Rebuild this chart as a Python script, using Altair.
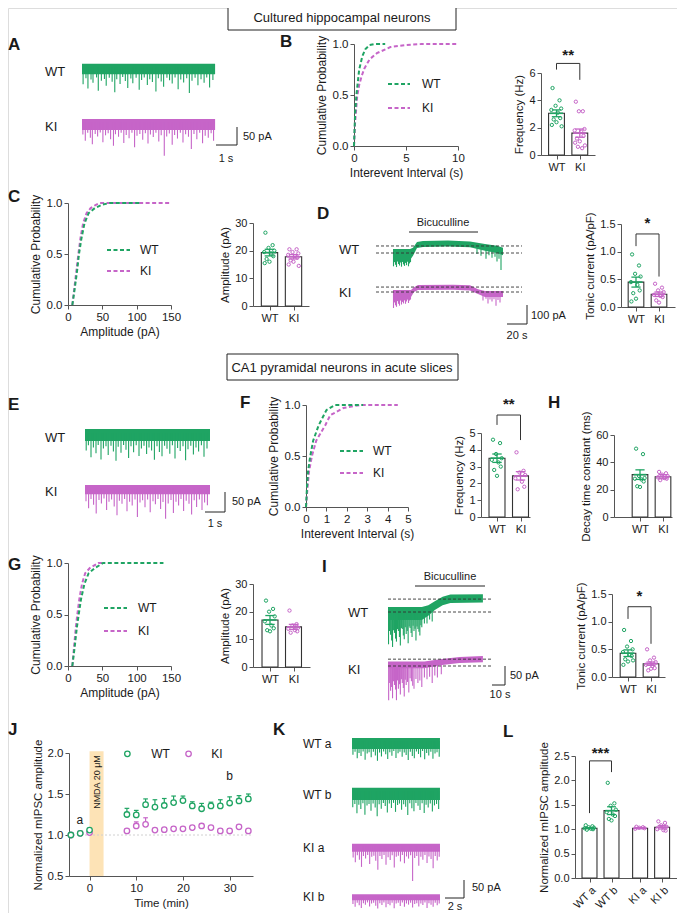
import altair as alt
import pandas as pd

# ======================= DATA =======================
groups = ["WT", "KI"]

# B: cumulative probability of inter-event interval (cultured)
B_wt_x = [0, 0.1, 0.23, 0.5, 0.8, 1.1, 1.5, 2.0, 3.0]
B_wt_y = [0, 0.3, 0.5, 0.75, 0.88, 0.95, 0.99, 1.0, 1.0]
B_ki_x = [0, 0.1, 0.3, 0.5, 0.75, 1.0, 1.5, 2.2, 3.5, 5.0, 6.5, 10.0]
B_ki_y = [0, 0.22, 0.48, 0.6, 0.69, 0.76, 0.85, 0.91, 0.97, 0.99, 1.0, 1.0]
B_freq_wt = [4.9, 4.0, 3.6, 3.4, 3.3, 3.1, 2.7, 2.6, 2.4, 2.2, 2.1]
B_freq_ki = [3.9, 3.2, 3.2, 1.9, 1.8, 1.7, 1.4, 1.2, 1.0, 0.9, 0.7, 0.6, 0.5]
B_mean = [3.05, 1.6]
B_sem = [0.25, 0.3]

# C: amplitude (cultured)
C_wt_x = [6.3, 10, 13.5, 16, 19.5, 24, 30, 39, 50, 61, 105]
C_wt_y = [0, 0.17, 0.35, 0.5, 0.65, 0.8, 0.9, 0.95, 0.985, 1.0, 1.0]
C_ki_x = [6.3, 9.5, 13, 15.5, 18.5, 22, 27, 33, 40, 46, 150]
C_ki_y = [0, 0.18, 0.38, 0.52, 0.67, 0.8, 0.9, 0.95, 0.98, 1.0, 1.0]
C_amp_wt = [26.5, 22, 21, 20, 19.5, 19, 18, 17, 16, 15.5]
C_amp_ki = [20.5, 20.5, 19.5, 19, 18.5, 18, 17.5, 16.5, 16, 15, 14.5]
C_mean = [19.3, 17.8]
C_sem = [1.2, 0.8]

# D: tonic current (cultured)
D_wt = [0.95, 0.75, 0.6, 0.55, 0.45, 0.4, 0.3, 0.25, 0.15, 0.1]
D_ki = [0.42, 0.35, 0.3, 0.27, 0.22, 0.2, 0.18, 0.12, 0.08]
D_mean = [0.45, 0.23]
D_sem = [0.09, 0.04]

# F: inter-event interval (slices)
F_wt_x = [0, 0.05, 0.1, 0.21, 0.35, 0.62, 1.0, 1.43, 2.8]
F_wt_y = [0, 0.2, 0.35, 0.5, 0.65, 0.8, 0.95, 1.0, 1.0]
F_ki_x = [0, 0.08, 0.15, 0.29, 0.5, 0.94, 1.19, 1.83, 2.65, 4.5]
F_ki_y = [0, 0.2, 0.35, 0.5, 0.65, 0.8, 0.9, 0.97, 1.0, 1.0]
F_freq_wt = [4.6, 4.4, 3.75, 3.5, 3.4, 3.25, 3.0, 2.8, 2.45]
F_freq_ki = [3.85, 2.75, 2.65, 2.5, 2.3, 2.1, 1.8, 1.65]
F_mean = [3.5, 2.45]
F_sem = [0.25, 0.25]

# H: decay time constant
H_wt = [50, 46, 30, 28.5, 28, 27.5, 26, 22.5, 22]
H_ki = [33, 32, 31, 30, 29, 28.5, 28, 27]
H_mean = [31, 29.5]
H_sem = [3.5, 1.5]

# G: amplitude (slices)
G_wt_x = [6.3, 10, 13, 15.6, 19, 24, 30, 39, 51, 139]
G_wt_y = [0, 0.2, 0.38, 0.5, 0.65, 0.8, 0.9, 0.95, 1.0, 1.0]
G_ki_x = [6.3, 9, 11.5, 13.6, 16.5, 20.5, 25, 31.7, 44, 51]
G_ki_y = [0, 0.2, 0.38, 0.5, 0.65, 0.8, 0.9, 0.95, 1.0, 1.0]
G_amp_wt = [24, 21, 20, 18.3, 16.5, 15, 14, 13.3, 12.9]
G_amp_ki = [20.4, 15.5, 15, 14.2, 13.8, 13.3, 12.9, 12.4]
G_mean = [17, 14.5]
G_sem = [1.6, 0.9]

# I: tonic current (slices)
I_wt = [0.85, 0.65, 0.55, 0.5, 0.45, 0.4, 0.38, 0.32, 0.28, 0.22, 0.3]
I_ki = [0.5, 0.35, 0.3, 0.27, 0.22, 0.2, 0.16, 0.12, 0.15]
I_mean = [0.43, 0.24]
I_sem = [0.06, 0.03]

# J: time course of normalized mIPSC amplitude
J_time = [-4, -2, 0, 8, 10, 12, 14, 16, 18, 20, 22, 24, 26, 28, 30, 32, 34]
J_wt = [1.0, 1.02, 1.06, 1.25, 1.245, 1.37, 1.34, 1.36, 1.395, 1.42, 1.355, 1.32, 1.355, 1.355, 1.39, 1.415, 1.44]
J_wt_sem = [0, 0, 0, 0.075, 0.055, 0.07, 0.09, 0.085, 0.08, 0.055, 0.05, 0.065, 0.045, 0.075, 0.075, 0.065, 0.06]
J_ki = [1.0, 1.02, 1.03, 1.05, 1.11, 1.13, 1.06, 1.065, 1.075, 1.075, 1.09, 1.11, 1.09, 1.05, 1.05, 1.10, 1.05]
J_ki_sem = [0, 0, 0, 0.02, 0.05, 0.08, 0.02, 0.01, 0.02, 0.02, 0.015, 0.01, 0.01, 0.01, 0.01, 0.02, 0.01]
J_nmda = [0, 3]

# L: normalized amplitude a vs b
L_cats = ["WT a", "WT b", "KI a", "KI b"]
L_pts = [[1.08, 1.06, 1.04, 1.03, 1.02, 1.01, 1.0, 0.99],
         [1.95, 1.53, 1.48, 1.4, 1.35, 1.3, 1.27, 1.21, 1.18],
         [1.05, 1.04, 1.03, 1.02, 1.01],
         [1.16, 1.13, 1.08, 1.05, 1.0, 0.98, 0.97]]
L_mean = [1.02, 1.38, 1.02, 1.04]
L_sem = [0.01, 0.08, 0.01, 0.035]

# Example traces: band (t, upper, lower) in pA and events (t, to) or (t, from, to) in pA
A_wt_band = [(0, 9, -20), (6.05, 9, -20)]
A_wt_ev = [(0.05, -48), (0.18, -31), (0.27, -60), (0.41, -35), (0.5, -44), (0.66, -29), (0.74, -66), (0.88, -38),
           (1.02, -33), (1.1, -52), (1.24, -30), (1.37, -41), (1.49, -70), (1.58, -34), (1.73, -47), (1.85, -28),
           (1.97, -39), (2.08, -58), (2.22, -32), (2.31, -45), (2.46, -30), (2.6, -63), (2.71, -36), (2.83, -29),
           (2.97, -50), (3.08, -34), (3.2, -42), (3.36, -68), (3.47, -31), (3.6, -40), (3.71, -55), (3.86, -30),
           (3.98, -37), (4.1, -46), (4.23, -29), (4.37, -62), (4.49, -35), (4.62, -43), (4.76, -31), (4.88, -72),
           (5.0, -38), (5.14, -30), (5.27, -51), (5.41, -34), (5.55, -44), (5.67, -29), (5.8, -57), (5.95, -36)]
A_ki_band = [(0, 8, -22), (6.05, 8, -22)]
A_ki_ev = [(0.04, -35), (0.15, -52), (0.26, -30), (0.38, -44), (0.47, -62), (0.6, -33), (0.71, -40), (0.83, -29),
           (0.95, -56), (1.07, -37), (1.19, -31), (1.3, -48), (1.43, -66), (1.52, -34), (1.66, -41), (1.78, -30),
           (1.9, -58), (2.01, -36), (2.14, -45), (2.27, -30), (2.39, -70), (2.5, -38), (2.63, -33), (2.76, -49),
           (2.88, -31), (3.0, -60), (3.11, -35), (3.24, -42), (3.36, -30), (3.49, -54), (3.6, -37), (3.74, -94),
           (3.85, -40), (3.97, -32), (4.1, -63), (4.21, -36), (4.34, -46), (4.47, -30), (4.59, -57), (4.71, -34),
           (4.84, -41), (4.97, -75), (5.09, -33), (5.22, -48), (5.35, -30), (5.48, -59), (5.6, -38), (5.74, -44),
           (5.87, -31), (5.98, -52)]
E_wt_band = [(0, 9, -18), (6.25, 9, -18)]
E_wt_ev = [(0.06, -40), (0.17, -28), (0.3, -55), (0.42, -33), (0.55, -46), (0.66, -27), (0.8, -60), (0.92, -35),
           (1.05, -30), (1.16, -50), (1.3, -29), (1.42, -42), (1.55, -63), (1.66, -31), (1.8, -45), (1.93, -27),
           (2.05, -38), (2.18, -57), (2.3, -30), (2.43, -44), (2.56, -28), (2.7, -52), (2.82, -35), (2.95, -29),
           (3.08, -48), (3.2, -33), (3.33, -40), (3.47, -61), (3.6, -30), (3.72, -43), (3.85, -53), (3.98, -29),
           (4.1, -36), (4.24, -47), (4.37, -28), (4.5, -58), (4.63, -34), (4.76, -41), (4.9, -30), (5.03, -62),
           (5.15, -37), (5.29, -29), (5.42, -49), (5.55, -33), (5.68, -42), (5.82, -28), (5.95, -54), (6.1, -35)]
E_ki_band = [(0, 7, -14), (6.25, 7, -14)]
E_ki_ev = [(0.05, -30), (0.18, -46), (0.3, -25), (0.43, -38), (0.56, -58), (0.7, -27), (0.82, -35), (0.95, -24),
           (1.08, -50), (1.2, -31), (1.33, -26), (1.46, -42), (1.6, -62), (1.72, -29), (1.85, -36), (1.98, -25),
           (2.1, -53), (2.23, -31), (2.36, -40), (2.5, -26), (2.62, -66), (2.75, -33), (2.88, -28), (3.0, -44),
           (3.13, -26), (3.26, -55), (3.4, -30), (3.52, -37), (3.65, -25), (3.78, -48), (3.9, -32), (4.03, -70),
           (4.16, -35), (4.3, -27), (4.42, -57), (4.55, -31), (4.68, -40), (4.8, -25), (4.93, -52), (5.06, -29),
           (5.2, -36), (5.33, -60), (5.46, -28), (5.58, -43), (5.72, -26), (5.85, -50), (5.98, -33), (6.12, -39)]
K_wta_band = [(0, 8, -22), (9.26, 8, -22)]
K_wta_ev = [(0.1, -38), (0.32, -30), (0.55, -48), (0.74, -33), (0.95, -42), (1.17, -29), (1.38, -52), (1.6, -35),
            (1.8, -31), (2.02, -45), (2.25, -30), (2.46, -40), (2.68, -55), (2.9, -32), (3.1, -43), (3.33, -29),
            (3.55, -37), (3.76, -50), (3.98, -31), (4.2, -41), (4.4, -28), (4.63, -47), (4.85, -34), (5.05, -30),
            (5.28, -44), (5.5, -32), (5.7, -39), (5.92, -53), (6.14, -30), (6.35, -42), (6.56, -48), (6.78, -29),
            (7.0, -36), (7.22, -45), (7.43, -28), (7.65, -51), (7.86, -33), (8.08, -40), (8.3, -30), (8.52, -49),
            (8.74, -35), (8.95, -31), (9.18, -44)]
K_wtb_band = [(0, 9, -25), (9.26, 9, -25)]
K_wtb_ev = [(0.08, -45), (0.3, -36), (0.52, -62), (0.72, -38), (0.93, -50), (1.15, -34), (1.36, -66), (1.58, -40),
            (1.79, -36), (2.0, -55), (2.22, -35), (2.44, -46), (2.65, -70), (2.86, -37), (3.08, -49), (3.3, -33),
            (3.5, -42), (3.72, -60), (3.93, -35), (4.15, -47), (4.37, -33), (4.58, -58), (4.8, -39), (5.0, -35),
            (5.22, -52), (5.44, -37), (5.65, -44), (5.87, -67), (6.08, -34), (6.3, -48), (6.52, -56), (6.73, -33),
            (6.95, -41), (7.16, -53), (7.38, -34), (7.6, -61), (7.8, -38), (8.02, -46), (8.24, -35), (8.46, -57),
            (8.68, -40), (8.9, -36), (9.12, -50)]
K_kia_band = [(0, 6, -16), (9.26, 6, -16)]
K_kia_ev = [(0.12, -32), (0.35, -45), (0.56, -26), (0.78, -38), (1.0, -58), (1.2, -28), (1.43, -35), (1.65, -25),
            (1.86, -50), (2.08, -30), (2.3, -27), (2.5, -41), (2.72, -66), (2.94, -28), (3.15, -36), (3.37, -25),
            (3.58, -52), (3.8, -31), (4.02, -39), (4.23, -26), (4.45, -60), (4.66, -30), (4.88, -27), (5.1, -43),
            (5.3, -25), (5.52, -48), (5.74, -29), (5.95, -35), (6.17, -26), (6.38, -97), (6.6, -33), (6.82, -28),
            (7.03, -55), (7.25, -30), (7.46, -38), (7.68, -25), (7.9, -47), (8.1, -29), (8.32, -36), (8.54, -62),
            (8.76, -28), (8.97, -40), (9.18, -30)]
K_kib_band = [(0, 5, -12), (9.26, 5, -12)]
K_kib_ev = [(0.1, -22), (0.33, -30), (0.55, -19), (0.76, -26), (0.98, -33), (1.2, -20), (1.41, -24), (1.63, -18),
            (1.85, -29), (2.06, -21), (2.28, -19), (2.5, -27), (2.71, -35), (2.93, -20), (3.15, -25), (3.36, -18),
            (3.58, -31), (3.8, -22), (4.0, -26), (4.22, -19), (4.44, -34), (4.65, -21), (4.87, -19), (5.08, -28),
            (5.3, -18), (5.52, -30), (5.73, -21), (5.95, -24), (6.17, -19), (6.38, -32), (6.6, -22), (6.82, -20),
            (7.03, -29), (7.25, -21), (7.46, -25), (7.68, -18), (7.9, -33), (8.1, -20), (8.32, -24), (8.54, -30),
            (8.76, -19), (8.97, -26), (9.18, -21)]
D_wt_band = [(0, 21, -37), (17, 21, -37), (20, 28, -15), (24, 58, 26), (30, 63, 32), (55, 66, 34), (77, 60, 30),
             (92, 48, 12), (104, 38, 0), (110, 28, -12)]
D_wt_ev = [(0.5, 0, -70), (1.5, 0, -48), (2.5, 0, -62), (3.5, 0, -74), (4.5, 0, -45), (5.5, 0, -58), (6.5, 0, -66),
           (7.5, 0, -50), (8.5, 0, -72), (9.5, 0, -47), (10.5, 0, -60), (11.5, 0, -68), (12.5, 0, -52),
           (13.5, 0, -64), (14.5, 0, -46), (15.5, 0, -70), (16.5, 0, -55), (17.5, 0, -48), (84, 25, -5),
           (88, 20, -15), (93, 20, -30), (96, 15, -12), (99, 15, -25), (102, 10, -20), (104, 10, -45),
           (106, 5, -30), (108, 5, -90)]
D_ki_band = [(0, 10, -26), (18, 10, -26), (21, 25, 0), (25, 37, 10), (60, 38, 12), (77, 35, 8), (85, 15, -10),
             (92, 5, -26), (110, 5, -26)]
D_ki_ev = [(0.5, 0, -84), (1.5, 0, -55), (2.5, 0, -70), (3.5, 0, -78), (4.5, 0, -48), (5.5, 0, -62), (6.5, 0, -72),
           (7.5, 0, -45), (8.5, 0, -66), (9.5, 0, -52), (10.5, 0, -60), (11.5, 0, -44), (12.5, 0, -62),
           (13.5, 0, -50), (14.5, 0, -40), (15.5, 0, -58), (16.5, 0, -45), (17.5, 0, -40), (90, -10, -45),
           (93, -10, -35), (95, -10, -60), (97, -10, -40), (99, -10, -50), (101, -10, -38), (103, -10, -72),
           (105, -10, -42), (107, -10, -55)]
I_wt_band = [(0, 13, -21), (26, 13, -21), (31, 18, -10), (36, 28, 5), (42, 40, 18), (48, 46, 24), (73, 47, 25)]
I_wt_ev = [(0.4, 0, -85), (1.2, 0, -50), (2, 0, -60), (2.8, 0, -75), (3.5, 0, -92), (4.3, 0, -48), (5, 0, -55),
           (5.8, 0, -70), (6.5, 0, -78), (7.3, 0, -45), (8, 0, -50), (8.8, 0, -66), (9.5, 0, -88), (10.3, 0, -42),
           (11, 0, -45), (11.8, 0, -62), (12.5, 0, -72), (13.3, 0, -40), (14, 0, -58), (14.8, 0, -50),
           (15.5, 0, -82), (16.3, 0, -38), (17, 0, -42), (17.8, 0, -55), (18.5, 0, -66), (19.3, 0, -36),
           (20, 0, -50), (20.8, 0, -44), (21.5, 0, -75), (22.3, 0, -38), (23, 0, -45), (23.8, 0, -52),
           (24.5, 0, -62), (25.3, 0, -35), (26, 0, -40), (28, 2, -30), (30, 5, -30), (32, 8, -20), (34, 10, -25)]
I_ki_band = [(0, 12, -6), (28, 12, -6), (40, 18, 2), (55, 24, 8), (73, 26, 10)]
I_ki_ev = [(0.5, 0, -90), (1.3, 0, -45), (2, 0, -65), (2.8, 0, -55), (3.5, 0, -85), (4.3, 0, -40), (5, 0, -50),
           (5.8, 0, -62), (6.5, 0, -90), (7.3, 0, -38), (8, 0, -60), (8.8, 0, -48), (9.5, 0, -75), (10.3, 0, -35),
           (11, 0, -45), (11.8, 0, -58), (12.5, 0, -80), (13.3, 0, -36), (14, 0, -50), (15, 0, -42),
           (16, 0, -70), (17, 0, -32), (18, 0, -40), (19, 0, -52), (20, 0, -60), (21.5, 0, -34), (23, 0, -45),
           (24.5, 0, -38), (26, 0, -55), (28, 1, -30), (30, 2, -35), (32, 3, -28), (34, 4, -45), (36, 4, -25),
           (38, 5, -30), (41, 5, -22)]

# ======================= STYLE / LAYOUT =======================
OX, OY = 8, 8            # page margin: reference pixel -> view pixel
W, H = 669, 905
FONT = "Liberation Sans"
GREEN = "#1fa463"
PINK = "#c665c8"
AXC = "#555555"
TXT = "#1a1a1a"
JIT = [-0.17, 0.13, -0.04, 0.2, -0.22, 0.06, 0.16, -0.12, 0.0, -0.2, 0.22, -0.08, 0.1, 0.03]


def px(x):
    return x - OX


def py(y):
    return y - OY


def lin(domain, r0, r1):
    return alt.Scale(domain=domain, range=[r0, r1], nice=False, zero=False)


def xscale(domain, left, right):
    return lin(domain, px(left), px(right))


def yscale(domain, bottom, top):
    return lin(domain, py(bottom), py(top))


def axis_common(size, tsize):
    return dict(grid=False, domainColor=AXC, tickColor=AXC, labelColor=TXT, titleColor=TXT,
                labelFont=FONT, titleFont=FONT, labelFontSize=size, titleFontSize=tsize,
                titleFontWeight="normal", tickSize=4, labelPadding=2, titlePadding=4,
                labelFlush=False, labelOverlap=False)


def xaxis(line_y, title, values, size=11, tsize=11, **kw):
    return alt.Axis(orient="bottom", offset=py(line_y) - H, title=title, values=values,
                    **axis_common(size, tsize), **kw)


def yaxis(line_x, title, values, size=11, tsize=11, **kw):
    return alt.Axis(orient="left", offset=-px(line_x), title=title, values=values,
                    **axis_common(size, tsize), **kw)


def cdf_panel(wt, ki, xdom, xl, xr, yb, yt, xvals, xtitle):
    xs = xscale(xdom, xl, xr)
    ys = yscale([0, 1], yb, yt)
    ax_x = xaxis(yb, xtitle, xvals, size=11.5, tsize=12)
    ax_y = yaxis(xl, "Cumulative Probability", [0, 0.5, 1], size=11.5, tsize=12, format=".1f")
    layers = []
    for (xv, yv), col in ((ki, PINK), (wt, GREEN)):
        df = pd.DataFrame({"x": xv, "y": yv})
        layers.append(alt.Chart(df).mark_line(color=col, strokeDash=[4, 2.5], strokeWidth=2).encode(
            x=alt.X("x:Q", scale=xs, axis=ax_x), y=alt.Y("y:Q", scale=ys, axis=ax_y)))
    return alt.layer(*layers)


def label_expr(pos, labels):
    expr = "'%s'" % labels[-1]
    for p, lab in reversed(list(zip(pos[:-1], labels[:-1]))):
        expr = "(abs(datum.value - %s) < 0.01) ? '%s' : %s" % (p, lab, expr)
    return expr


def bar_panel(pos, labels, means, sems, pts, colors, xl, xr, c0, c1, yb, yt, ydom, yvals, ytitle,
              fmt="d", bracket=None, half=0.34, cap=0.2, label_angle=0):
    u = c1 - c0
    xs = xscale([(xl - c0) / u, (xr - c0) / u], xl, xr)
    ys = yscale(ydom, yb, yt)
    kw = {"labelAngle": label_angle} if label_angle else {}
    ax_x = xaxis(yb, None, pos, size=11, tsize=11, labelExpr=label_expr(pos, labels), **kw)
    ax_y = yaxis(xl, ytitle, yvals, size=11, tsize=11.5, format=fmt)

    def X(f):
        return alt.X(f, scale=xs, axis=ax_x)

    def Y(f):
        return alt.Y(f, scale=ys, axis=ax_y)

    bdf = pd.DataFrame({"p": pos, "m": means, "z": [0] * len(pos)})
    bdf["a"] = bdf["p"] - half
    bdf["b"] = bdf["p"] + half
    layers = [alt.Chart(bdf).mark_bar(fill="white", stroke="#333333", strokeWidth=1.1).encode(
        x=X("a:Q"), x2="b:Q", y=Y("m:Q"), y2="z:Q")]
    for p, vals, col in zip(pos, pts, colors):
        pdf = pd.DataFrame({"x": [p + JIT[i % len(JIT)] for i in range(len(vals))], "v": vals})
        layers.append(alt.Chart(pdf).mark_point(shape="circle", filled=False, size=11, strokeWidth=1,
                                                color=col, opacity=1).encode(x=X("x:Q"), y=Y("v:Q")))
    for p, m, s, col in zip(pos, means, sems, colors):
        edf = pd.DataFrame({"p": [p], "lo": [m - s], "hi": [m + s], "m": [m],
                            "l": [p - cap], "r": [p + cap], "l2": [p - cap * 1.4], "r2": [p + cap * 1.4]})
        layers.append(alt.Chart(edf).mark_rule(color=col, strokeWidth=1.3).encode(x=X("p:Q"), y=Y("lo:Q"), y2="hi:Q"))
        layers.append(alt.Chart(edf).mark_rule(color=col, strokeWidth=1.3).encode(x=X("l:Q"), x2="r:Q", y=Y("lo:Q")))
        layers.append(alt.Chart(edf).mark_rule(color=col, strokeWidth=1.3).encode(x=X("l:Q"), x2="r:Q", y=Y("hi:Q")))
        layers.append(alt.Chart(edf).mark_rule(color=col, strokeWidth=1.6).encode(x=X("l2:Q"), x2="r2:Q", y=Y("m:Q")))
    if bracket:
        p0, p1, ytop, y0, y1, stars, ystar = bracket
        sdf = pd.DataFrame({"x": [p0, p0, p1], "x2": [p1, p0, p1], "y": [ytop, y0, y1], "y2": [ytop, ytop, ytop]})
        layers.append(alt.Chart(sdf).mark_rule(color="#333333", strokeWidth=1).encode(
            x=X("x:Q"), x2="x2:Q", y=Y("y:Q"), y2="y2:Q"))
        tdf = pd.DataFrame({"x": [(p0 + p1) / 2], "y": [ystar], "t": [stars]})
        layers.append(alt.Chart(tdf).mark_text(font=FONT, fontSize=15, fontWeight="bold", color=TXT,
                                               baseline="middle").encode(x=X("x:Q"), y=Y("y:Q"), text="t:N"))
    return alt.layer(*layers)


def trace_panel(x0, base_y, pps, ppa, t_end, band, events, color, levels=None, lv_range=None):
    xs = xscale([0, t_end], x0, x0 + t_end * pps)
    ys = yscale([-200, 100], base_y + 200 * ppa, base_y - 100 * ppa)

    def X(f):
        return alt.X(f, scale=xs, axis=None)

    def Y(f):
        return alt.Y(f, scale=ys, axis=None)

    bdf = pd.DataFrame(band, columns=["t", "hi", "lo"])
    layers = [alt.Chart(bdf).mark_area(color=color, opacity=1).encode(x=X("t:Q"), y=Y("hi:Q"), y2="lo:Q")]
    ev = [e if len(e) == 3 else (e[0], 0, e[1]) for e in events]
    edf = pd.DataFrame(ev, columns=["t", "f", "a"])
    layers.append(alt.Chart(edf).mark_rule(color=color, strokeWidth=1.1).encode(x=X("t:Q"), y=Y("f:Q"), y2="a:Q"))
    if levels:
        ldf = pd.DataFrame({"y": levels, "t0": [lv_range[0]] * len(levels), "t1": [lv_range[1]] * len(levels)})
        layers.append(alt.Chart(ldf).mark_rule(color="#333333", strokeDash=[3, 2], strokeWidth=0.9).encode(
            x=X("t0:Q"), x2="t1:Q", y=Y("y:Q")))
    return alt.layer(*layers)


def pix_text(rows, size=12, weight="normal", align="left", baseline="middle", angle=0, color=TXT):
    df = pd.DataFrame(rows, columns=["x", "y", "t"])
    df["x"] = df["x"] - OX
    df["y"] = df["y"] - OY
    kw = {"angle": angle} if angle else {}
    return alt.Chart(df).mark_text(font=FONT, fontSize=size, fontWeight=weight, align=align,
                                   baseline=baseline, color=color, **kw).encode(
        x=alt.X("x:Q", scale=None, axis=None), y=alt.Y("y:Q", scale=None, axis=None), text="t:N")


def pix_rules(rows, color="#222222", width=1.0, dash=None):
    df = pd.DataFrame(rows, columns=["x", "y", "x2", "y2"])
    for c in ("x", "x2"):
        df[c] = df[c] - OX
    for c in ("y", "y2"):
        df[c] = df[c] - OY
    kw = {"strokeDash": dash} if dash else {}
    return alt.Chart(df).mark_rule(color=color, strokeWidth=width, **kw).encode(
        x=alt.X("x:Q", scale=None, axis=None), x2="x2:Q",
        y=alt.Y("y:Q", scale=None, axis=None), y2="y2:Q")


def pix_box(rows):
    df = pd.DataFrame(rows, columns=["x", "y", "x2", "y2"])
    for c in ("x", "x2"):
        df[c] = df[c] - OX
    for c in ("y", "y2"):
        df[c] = df[c] - OY
    return alt.Chart(df).mark_rect(fill="white", stroke="#222222", strokeWidth=1).encode(
        x=alt.X("x:Q", scale=None, axis=None), x2="x2:Q",
        y=alt.Y("y:Q", scale=None, axis=None), y2="y2:Q")


# ======================= PANELS =======================
panels = []
panels.append(pix_box([(228, 4, 456, 30), (227, 354, 458, 380)]))
panels.append(pix_text([(342, 17.5, "Cultured hippocampal neurons"),
                        (342, 367.5, "CA1 pyramidal neurons in acute slices")], size=13, align="center"))
panels.append(pix_text([(8, 45, "A"), (280, 42, "B"), (8, 197, "C"), (317, 214, "D"), (8, 405, "E"),
                        (240, 403, "F"), (548, 403, "H"), (8, 565, "G"), (322, 567, "I"), (8, 730, "J"),
                        (273, 730, "K"), (503, 732, "L")], size=17, weight="bold"))

# --- traces
panels.append(trace_panel(82, 67, 22, 0.36, 6.05, A_wt_band, A_wt_ev, GREEN))
panels.append(trace_panel(82, 122, 22, 0.36, 6.05, A_ki_band, A_ki_ev, PINK))
panels.append(trace_panel(393, 253, 1.0, 0.19, 110, D_wt_band, D_wt_ev, GREEN, [0, 37], [-17, 129]))
panels.append(trace_panel(393, 292, 1.0, 0.19, 110, D_ki_band, D_ki_ev, PINK, [0, 26], [-17, 129]))
panels.append(trace_panel(85, 433, 20, 0.44, 6.25, E_wt_band, E_wt_ev, GREEN))
panels.append(trace_panel(85, 488, 20, 0.44, 6.25, E_ki_band, E_ki_ev, PINK))
panels.append(trace_panel(388, 612, 1.3, 0.38, 73, I_wt_band, I_wt_ev, GREEN, [0, 34], [0, 80]))
panels.append(trace_panel(388, 666, 1.3, 0.38, 73, I_ki_band, I_ki_ev, PINK, [0, 18], [0, 80]))
panels.append(trace_panel(352, 741, 9.5, 0.36, 9.26, K_wta_band, K_wta_ev, GREEN))
panels.append(trace_panel(352, 791, 9.5, 0.36, 9.26, K_wtb_band, K_wtb_ev, GREEN))
panels.append(trace_panel(352, 846, 9.5, 0.36, 9.26, K_kia_band, K_kia_ev, PINK))
panels.append(trace_panel(352, 896, 9.5, 0.36, 9.26, K_kib_band, K_kib_ev, PINK))

panels.append(pix_text([(45, 72, "WT"), (45, 127, "KI"), (339, 250, "WT"), (339, 293, "KI"),
                        (45, 438, "WT"), (45, 492, "KI"), (348, 613, "WT"), (348, 670, "KI")], size=13))
panels.append(pix_text([(303, 744, "WT a"), (303, 795, "WT b"), (303, 848, "KI a"), (303, 897, "KI b")], size=12))
panels.append(pix_text([(243, 137, "50 pA"), (531, 316, "100 pA"), (232, 502, "50 pA"), (510, 676, "50 pA"),
                        (472, 888, "50 pA")], size=11))
panels.append(pix_text([(226, 159, "1 s"), (517, 336, "20 s"), (215, 524, "1 s"), (500, 695, "10 s"),
                        (455, 907, "2 s")], size=11, align="center"))
panels.append(pix_text([(443, 223, "Bicuculline"), (450, 577, "Bicuculline")], size=11, align="center"))
panels.append(pix_rules([(237, 127, 237, 145), (216, 145, 237, 145),
                         (527, 305, 527, 324), (507, 324, 527, 324),
                         (225, 492, 225, 512), (205, 512, 225, 512),
                         (505, 666, 505, 685), (492, 685, 505, 685),
                         (464, 880, 464, 898), (445, 898, 464, 898),
                         (409, 232, 478, 232), (415, 586, 485, 586)]))

# --- CDF panels
panels.append(cdf_panel((B_wt_x, B_wt_y), (B_ki_x, B_ki_y), [0, 10], 354, 458, 146, 44, [0, 5, 10],
                        "Interevent Interval (s)"))
panels.append(cdf_panel((C_wt_x, C_wt_y), (C_ki_x, C_ki_y), [0, 150], 68, 171, 305, 203, [0, 50, 100, 150],
                        "Amplitude (pA)"))
panels.append(cdf_panel((F_wt_x, F_wt_y), (F_ki_x, F_ki_y), [0, 5], 306, 408, 507, 405, [0, 1, 2, 3, 4, 5],
                        "Interevent Interval (s)"))
panels.append(cdf_panel((G_wt_x, G_wt_y), (G_ki_x, G_ki_y), [0, 150], 68, 171, 666, 563, [0, 50, 100, 150],
                        "Amplitude (pA)"))
panels.append(pix_rules([(388, 84, 410, 84), (107, 250, 130, 250), (340, 451, 363, 451), (104, 608, 127, 608)],
                        color=GREEN, width=2, dash=[4, 2.5]))
panels.append(pix_rules([(388, 108, 410, 108), (107, 271, 130, 271), (340, 473, 363, 473), (104, 631, 127, 631)],
                        color=PINK, width=2, dash=[4, 2.5]))
panels.append(pix_text([(422, 84, "WT"), (422, 108, "KI"), (140, 250, "WT"), (140, 271, "KI"),
                        (373, 451, "WT"), (373, 473, "KI"), (138, 608, "WT"), (138, 631, "KI")], size=12))

# --- bar panels
P2 = [0, 1]
COLS = [GREEN, PINK]
panels.append(bar_panel(P2, groups, B_mean, B_sem, [B_freq_wt, B_freq_ki], COLS, 541, 595, 556.5, 579.8,
                        155, 73, [0, 6], [0, 2, 4, 6], "Frequency (Hz)",
                        bracket=(0, 1, 6.7, 6.25, 5.5, "**", 7.35)))
panels.append(bar_panel(P2, groups, C_mean, C_sem, [C_amp_wt, C_amp_ki], COLS, 253, 309, 269.5, 293.5,
                        306, 223, [0, 30], [0, 10, 20, 30], "Amplitude (pA)"))
panels.append(bar_panel(P2, groups, D_mean, D_sem, [D_wt, D_ki], COLS, 621, 675, 636, 659,
                        307, 224, [0, 1.5], [0, 0.5, 1.0, 1.5], "Tonic current (pA/pF)", fmt=".1f",
                        bracket=(0, 1, 1.32, 1.1, 0.55, "*", 1.52)))
panels.append(bar_panel(P2, groups, F_mean, F_sem, [F_freq_wt, F_freq_ki], COLS, 481, 530, 497, 520.5,
                        517, 433, [0, 5], [0, 1, 2, 3, 4, 5], "Frequency (Hz)",
                        bracket=(0, 1, 6.07, 5.48, 4.58, "**", 6.7)))
panels.append(bar_panel(P2, groups, H_mean, H_sem, [H_wt, H_ki], COLS, 614, 672, 640, 663,
                        517, 435, [0, 60], [0, 20, 40, 60], "Decay time constant (ms)"))
panels.append(bar_panel(P2, groups, G_mean, G_sem, [G_amp_wt, G_amp_ki], COLS, 253, 310, 270, 293.5,
                        667, 584, [0, 30], [0, 10, 20, 30], "Amplitude (pA)"))
panels.append(bar_panel(P2, groups, I_mean, I_sem, [I_wt, I_ki], COLS, 612, 665, 628, 651,
                        677, 594, [0, 1.5], [0, 0.5, 1.0, 1.5], "Tonic current (pA/pF)", fmt=".1f",
                        bracket=(0, 1, 1.27, 1.05, 0.6, "*", 1.47)))
panels.append(bar_panel([0, 1, 2.3, 3.3], L_cats, L_mean, L_sem, L_pts, [GREEN, GREEN, PINK, PINK],
                        575, 678, 589.5, 611.5, 878, 756, [0, 2.5], [0, 0.5, 1.0, 1.5, 2.0, 2.5],
                        "Normalized mIPSC amplitude", fmt=".1f",
                        bracket=(0, 1, 2.4, 1.33, 2.17, "***", 2.56), label_angle=315))

# --- J time course
jx = xscale([-4.4, 35], 69, 253)
jy = yscale([0.5, 2.0], 876, 753)
jax = xaxis(876, "Time (min)", [0, 10, 20, 30], size=11.5, tsize=11.5)
jay = yaxis(69, "Normalized mIPSC amplitude", [0.5, 1.0, 1.5, 2.0], size=11.5, tsize=11.5, format=".1f")


def JX(f):
    return alt.X(f, scale=jx, axis=jax)


def JY(f):
    return alt.Y(f, scale=jy, axis=jay)


jl = []
ndf = pd.DataFrame({"a": [J_nmda[0]], "b": [J_nmda[1]], "lo": [0.5], "hi": [2.02]})
jl.append(alt.Chart(ndf).mark_rect(color="#fde3b6").encode(x=JX("a:Q"), x2="b:Q", y=JY("lo:Q"), y2="hi:Q"))
rdf = pd.DataFrame({"a": [-4.4], "b": [35], "y": [1.0]})
jl.append(alt.Chart(rdf).mark_rule(color="#d0d0d0", strokeDash=[2, 2], strokeWidth=1).encode(
    x=JX("a:Q"), x2="b:Q", y=JY("y:Q")))
ntx = pd.DataFrame({"x": [1.5], "y": [1.646], "t": ["NMDA 20 μM"]})
jl.append(alt.Chart(ntx).mark_text(font=FONT, fontSize=9, angle=270, color=TXT).encode(
    x=JX("x:Q"), y=JY("y:Q"), text="t:N"))
for vals, sem, col in ((J_ki, J_ki_sem, PINK), (J_wt, J_wt_sem, GREEN)):
    df = pd.DataFrame({"t": J_time, "m": vals, "hi": [v + s for v, s in zip(vals, sem)]})
    df["l"] = df["t"] - 0.5
    df["r"] = df["t"] + 0.5
    jl.append(alt.Chart(df).mark_rule(color=col, strokeWidth=1.2).encode(x=JX("t:Q"), y=JY("m:Q"), y2="hi:Q"))
    jl.append(alt.Chart(df).mark_rule(color=col, strokeWidth=1.2).encode(x=JX("l:Q"), x2="r:Q", y=JY("hi:Q")))
    jl.append(alt.Chart(df).mark_point(shape="circle", filled=True, fill="white", stroke=col, strokeWidth=1.3,
                                       size=30, opacity=1).encode(x=JX("t:Q"), y=JY("m:Q")))
leg = pd.DataFrame({"x": [8.1, 21.2], "y": [1.99, 1.99], "c": ["WT", "KI"]})
jl.append(alt.Chart(leg.iloc[[0]]).mark_point(shape="circle", filled=True, fill="white", stroke=GREEN,
                                             strokeWidth=1.3, size=30, opacity=1).encode(x=JX("x:Q"), y=JY("y:Q")))
jl.append(alt.Chart(leg.iloc[[1]]).mark_point(shape="circle", filled=True, fill="white", stroke=PINK,
                                             strokeWidth=1.3, size=30, opacity=1).encode(x=JX("x:Q"), y=JY("y:Q")))
jtx = pd.DataFrame({"x": [15.2, 27.3, -2.1, 30], "y": [1.99, 1.99, 1.18, 1.72], "t": ["WT", "KI", "a", "b"]})
jl.append(alt.Chart(jtx).mark_text(font=FONT, fontSize=12, color=TXT).encode(x=JX("x:Q"), y=JY("y:Q"), text="t:N"))
panels.append(alt.layer(*jl))

chart = alt.layer(*panels).resolve_scale(x="independent", y="independent").properties(
    width=W, height=H, padding=0, autosize=alt.AutoSizeParams(type="none")
).configure_view(stroke=None).configure(font=FONT)

chart.save("out.html", embed_options={"renderer": "svg", "actions": False})
